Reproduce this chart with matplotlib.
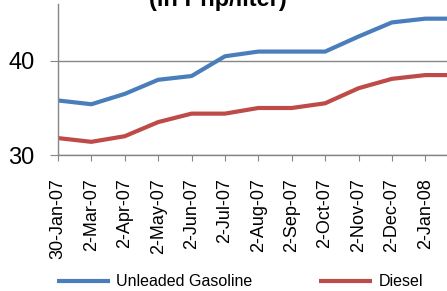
import matplotlib.pyplot as plt

# monthly pump prices (Php/liter), categories on x
dates = ['30-Jan-07', '2-Mar-07', '2-Apr-07', '2-May-07', '2-Jun-07', '2-Jul-07',
         '2-Aug-07', '2-Sep-07', '2-Oct-07', '2-Nov-07', '2-Dec-07', '2-Jan-08', '2-Feb-08']
gasoline = [35.8, 35.4, 36.5, 38.0, 38.4, 40.5, 41.0, 41.0, 41.0, 42.6, 44.1, 44.5, 44.5]
diesel = [31.8, 31.4, 32.0, 33.5, 34.4, 34.4, 35.0, 35.0, 35.5, 37.1, 38.1, 38.5, 38.5]

plt.rcParams['font.family'] = ['Liberation Sans', 'DejaVu Sans']

fig = plt.figure(figsize=(4.47, 2.91), dpi=100)
ax = fig.add_axes([58 / 447, 136 / 291, 389 / 447, 151 / 291])

x = range(len(dates))
ax.plot(x, gasoline, color='#4A7EBB', lw=3, label='Unleaded Gasoline', solid_capstyle='butt')
ax.plot(x, diesel, color='#BE4B48', lw=3, label='Diesel', solid_capstyle='butt')

ax.set_xlim(0, 11.65)
ax.set_ylim(30, 46.06)
ax.set_yticks([30, 40])
ax.set_xticks(list(x)[:12])
ax.set_xticklabels(dates[:12], rotation=90, fontsize=13)
ax.tick_params(axis='y', labelsize=17, length=6, color='#868686', pad=11)
ax.tick_params(axis='x', length=4.5, color='#868686', pad=12.5)
ax.yaxis.grid(True, color='#868686', lw=1)
ax.set_axisbelow(True)
for s in ['top', 'right']:
    ax.spines[s].set_visible(False)
for s in ['left', 'bottom']:
    ax.spines[s].set_color('#868686')
    ax.spines[s].set_linewidth(1)

# title is cropped at the top edge, as in the source picture
fig.text(218 / 447, 285 / 291, '(in Php/liter)', ha='center', va='baseline',
         fontsize=17, fontweight='bold')

fig.legend(loc='center', bbox_to_anchor=(240 / 447, 1 - 282 / 291), ncol=2,
           frameon=False, fontsize=11.5, handlelength=3.3, columnspacing=4.2,
           handletextpad=0.4)

fig.savefig('out.png', dpi=100)
